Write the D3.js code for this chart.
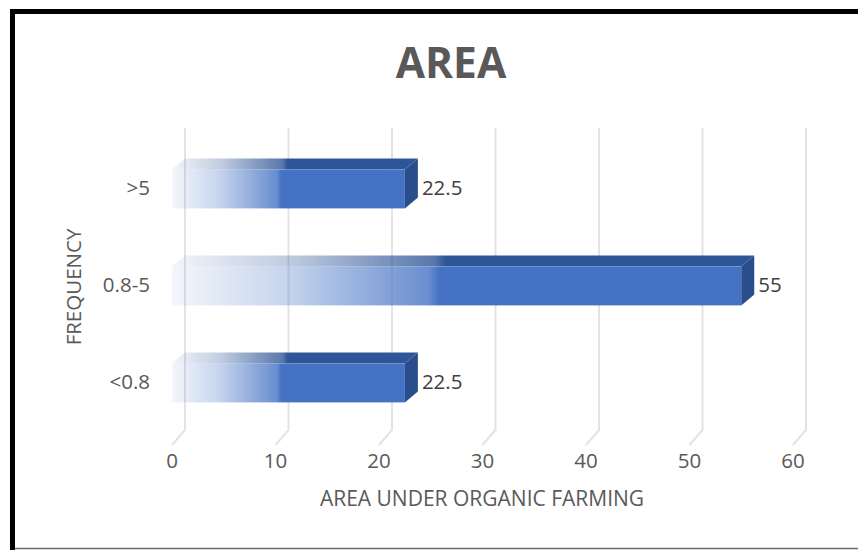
<!DOCTYPE html>
<html>
<head>
<meta charset="utf-8">
<script src="https://cdn.jsdelivr.net/npm/d3@7"></script>
<style>
  html, body { margin: 0; padding: 0; background: #fff; }
  svg { display: block; font-family: "Open Sans", sans-serif; }
</style>
</head>
<body>
<svg id="chart" width="858" height="550"></svg>
<script>
// Chart data
const categories = [">5", "0.8-5", "<0.8"];
const values = [22.5, 55, 22.5];
const xTicks = [0, 10, 20, 30, 40, 50, 60];
const chartTitle = "AREA";
const xTitle = "AREA UNDER ORGANIC FARMING";
const yTitle = "FREQUENCY";

const svg = d3.select("#chart");
const textColor = "#595959";

// 3D depth offsets
const depthX = 13, barDepthY = 11, floorDepthY = 15;

// Scales (front plane)
const x = d3.scaleLinear().domain([0, 60]).range([172, 793]);
const y = d3.scaleBand().domain(categories).range([140.5, 431.5])
  .paddingInner(0.6).paddingOuter(0.3);

// Outer frame
svg.append("line").attr("x1", 10).attr("x2", 858).attr("y1", 548.5).attr("y2", 548.5)
  .attr("stroke", "#6b6b6b").attr("stroke-width", 1.5);
svg.append("path")
  .attr("d", "M858,11.5 H12.5 V550")
  .attr("fill", "none").attr("stroke", "#000").attr("stroke-width", 5);

// Title
svg.append("text").attr("x", 451).attr("y", 78).attr("text-anchor", "middle")
  .attr("font-size", 42.5).attr("font-weight", 700).attr("fill", textColor)
  .text(chartTitle);

// Gridlines on back wall and floor
const wallTop = 128, wallBottom = 430;
const grid = svg.append("g");
xTicks.forEach(t => {
  const bx = x(t) + depthX;
  grid.append("path")
    .attr("d", `M${bx},${wallTop} V${wallBottom} L${x(t)},${wallBottom + floorDepthY}`)
    .attr("fill", "none").attr("stroke", "#e3e3e3").attr("stroke-width", 2);
});

// Gradient: bar fades in from the left
const defs = svg.append("defs");
function makeGrad(id, color) {
  const g = defs.append("linearGradient").attr("id", id)
    .attr("x1", "0").attr("x2", "1").attr("y1", "0").attr("y2", "0");
  g.append("stop").attr("offset", "0").attr("stop-color", color).attr("stop-opacity", 0.06);
  g.append("stop").attr("offset", "0.2").attr("stop-color", color).attr("stop-opacity", 0.3);
  g.append("stop").attr("offset", "0.45").attr("stop-color", color).attr("stop-opacity", 0.8);
  g.append("stop").attr("offset", "0.47").attr("stop-color", color).attr("stop-opacity", 1);
  g.append("stop").attr("offset", "1").attr("stop-color", color).attr("stop-opacity", 1);
}
makeGrad("gFront", "#4472c4");
makeGrad("gTop", "#2f5597");

defs.append("filter").attr("id", "soft").attr("x", "-5%").attr("width", "110%")
  .append("feGaussianBlur").attr("stdDeviation", 0.6);

// Bars
const bars = svg.append("g").selectAll("g").data(categories).join("g")
  .attr("filter", "url(#soft)");

bars.each(function(c, i) {
  const g = d3.select(this);
  const v = values[i];
  const x0 = x(0), x1 = x(v);
  const y0 = y(c), h = y.bandwidth();
  // top face
  g.append("path")
    .attr("d", `M${x0},${y0} L${x0 + depthX},${y0 - barDepthY} L${x1 + depthX},${y0 - barDepthY} L${x1},${y0} Z`)
    .attr("fill", "url(#gTop)");
  // front face
  g.append("rect").attr("x", x0).attr("y", y0).attr("width", x1 - x0).attr("height", h)
    .attr("fill", "url(#gFront)");
  // end face
  g.append("path")
    .attr("d", `M${x1},${y0} L${x1 + depthX},${y0 - barDepthY} L${x1 + depthX},${y0 + h - barDepthY} L${x1},${y0 + h} Z`)
    .attr("fill", "#2b4d8c");
});

// Value labels
svg.append("g").selectAll("text").data(categories).join("text")
  .attr("x", (c, i) => x(values[i]) + depthX + 4)
  .attr("y", c => y(c) + y.bandwidth() / 2 + 1)
  .attr("dominant-baseline", "middle")
  .attr("font-size", 20.5).attr("fill", "#404040")
  .text((c, i) => values[i]);

// Category labels
svg.append("g").selectAll("text").data(categories).join("text")
  .attr("x", 150)
  .attr("y", c => y(c) + y.bandwidth() / 2 + 1)
  .attr("text-anchor", "end").attr("dominant-baseline", "middle")
  .attr("font-size", 20.5).attr("fill", textColor)
  .text(c => c);

// X tick labels
svg.append("g").selectAll("text").data(xTicks).join("text")
  .attr("x", t => x(t))
  .attr("y", 463)
  .attr("text-anchor", "middle").attr("dominant-baseline", "middle")
  .attr("font-size", 20.5).attr("fill", textColor)
  .text(t => t);

// Axis titles
svg.append("text").attr("x", 482).attr("y", 500)
  .attr("text-anchor", "middle").attr("dominant-baseline", "middle")
  .attr("font-size", 21).attr("fill", textColor).text(xTitle);

svg.append("text")
  .attr("transform", "translate(76,287) rotate(-90)")
  .attr("text-anchor", "middle").attr("dominant-baseline", "middle")
  .attr("font-size", 20.5).attr("fill", textColor).text(yTitle);
</script>
</body>
</html>
